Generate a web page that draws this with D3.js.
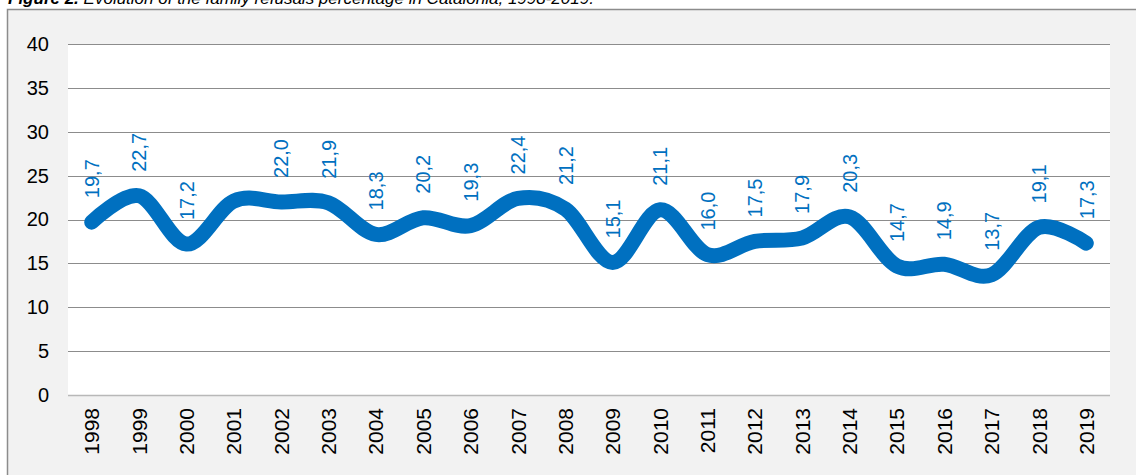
<!DOCTYPE html>
<html>
<head>
<meta charset="utf-8">
<script src="https://cdn.jsdelivr.net/npm/d3@7"></script>
<style>
  html, body { margin: 0; padding: 0; background: #ffffff; }
  svg { display: block; }
</style>
</head>
<body>
<svg id="chart" width="1136" height="475"></svg>
<script>
const years = ["1998","1999","2000","2001","2002","2003","2004","2005","2006","2007","2008","2009","2010","2011","2012","2013","2014","2015","2016","2017","2018","2019"];
const values = [19.7, 22.7, 17.2, 22.1, 22.0, 21.9, 18.3, 20.2, 19.3, 22.4, 21.2, 15.1, 21.1, 16.0, 17.5, 17.9, 20.3, 14.7, 14.9, 13.7, 19.1, 17.3];
const labels = ["19,7","22,7","17,2","","22,0","21,9","18,3","20,2","19,3","22,4","21,2","15,1","21,1","16,0","17,5","17,9","20,3","14,7","14,9","13,7","19,1","17,3"];
const yTicks = [0, 5, 10, 15, 20, 25, 30, 35, 40];
const titleBold = "Figure 2.";
const titleRest = " Evolution of the family refusals percentage in Catalonia, 1998-2019.";

const svg = d3.select("#chart");
const font = "'Liberation Sans', Arial, sans-serif";
const blue = "#0070C0";

// outer frame
svg.append("rect").attr("x", 7.5).attr("y", 9.5).attr("width", 1140).attr("height", 480)
  .attr("fill", "#f2f2f2").attr("stroke", "#8c8c8c").attr("stroke-width", 1.5);

// title (partially cut off at top)
const title = svg.append("text").attr("x", 8).attr("y", 4)
  .attr("font-family", font).attr("font-size", 17).attr("font-style", "italic").attr("fill", "#000");
title.append("tspan").attr("font-weight", "bold").text(titleBold);
title.append("tspan").text(titleRest);

const plot = { left: 68, right: 1110, top: 44, bottom: 395 };

svg.append("rect").attr("x", plot.left).attr("y", plot.top)
  .attr("width", plot.right - plot.left).attr("height", plot.bottom - plot.top).attr("fill", "#ffffff");

const x = d3.scaleBand().domain(years).range([plot.left, plot.right]).paddingInner(0).paddingOuter(0);
const y = d3.scaleLinear().domain([0, 40]).range([plot.bottom, plot.top]);

// gridlines
svg.append("g").selectAll("line").data(yTicks.filter(d => d > 0)).join("line")
  .attr("x1", plot.left).attr("x2", plot.right)
  .attr("y1", d => Math.round(y(d)) + 0.5).attr("y2", d => Math.round(y(d)) + 0.5)
  .attr("stroke", "#8c8c8c").attr("stroke-width", 1);

// x axis line
svg.append("line").attr("x1", plot.left).attr("x2", plot.right)
  .attr("y1", y(0) + 0.5).attr("y2", y(0) + 0.5)
  .attr("stroke", "#b8b8b8").attr("stroke-width", 1.5);

// y axis labels
const yAxis = d3.axisLeft(y).tickValues(yTicks).tickSize(0).tickPadding(19).tickFormat(d3.format("d"));
const gy = svg.append("g").attr("transform", `translate(${plot.left},0)`).call(yAxis);
gy.select(".domain").remove();
gy.selectAll("text").attr("font-family", font).attr("font-size", 20).attr("fill", "#000");

// x axis labels
const xAxis = d3.axisBottom(x).tickSize(0).tickPadding(0);
const gx = svg.append("g").attr("transform", `translate(0,${plot.bottom})`).call(xAxis);
gx.select(".domain").remove();
gx.selectAll("text")
  .attr("font-family", font).attr("font-size", 21).attr("fill", "#000")
  .attr("text-anchor", "end")
  .attr("transform", "rotate(-90)")
  .attr("x", -13).attr("y", 0).attr("dy", "0.36em");

// line
const line = d3.line()
  .x((d, i) => x(years[i]) + x.bandwidth() / 2)
  .y(d => y(d))
  .curve(d3.curveCardinal.tension(0));

svg.append("path").datum(values).attr("d", line)
  .attr("fill", "none").attr("stroke", blue).attr("stroke-width", 15)
  .attr("stroke-linecap", "round").attr("stroke-linejoin", "round");

// data labels
svg.append("g").selectAll("text").data(values).join("text")
  .attr("transform", (d, i) => `translate(${x(years[i]) + x.bandwidth() / 2},${y(d) - 24}) rotate(-90)`)
  .attr("dy", "0.36em")
  .attr("text-anchor", "start")
  .attr("font-family", font).attr("font-size", 20).attr("fill", blue)
  .text((d, i) => labels[i]);
</script>
</body>
</html>
